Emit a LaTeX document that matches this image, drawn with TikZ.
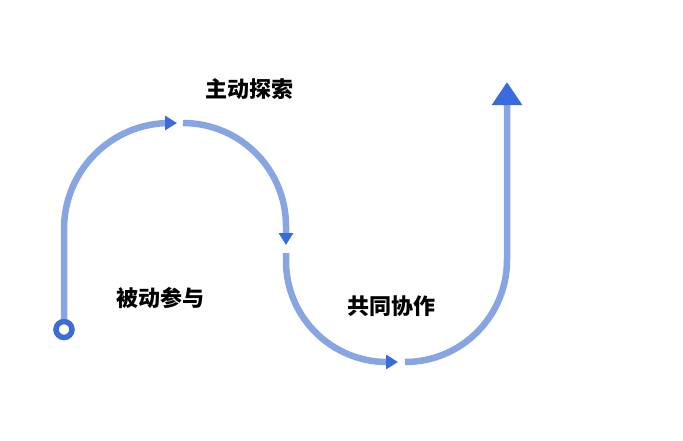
\documentclass[tikz,border=0pt]{standalone}
\usepackage{fontspec}
\newfontfamily\cjk{Noto Sans CJK SC}
\usetikzlibrary{arrows.meta}
\definecolor{lineblue}{HTML}{87A4E3}
\definecolor{tipblue}{HTML}{3A6BDD}
\definecolor{ringblue}{HTML}{3D6CD8}
\tikzset{
  flow/.style={draw=lineblue, line width=6.5pt},
  smalltip/.style={-{Triangle[length=12pt,width=14pt,color=tipblue]}},
  bigtip/.style={-{Triangle[length=23pt,width=29pt,color=tipblue]}},
  label/.style={font=\cjk\bfseries\fontsize{22pt}{26pt}\selectfont, text=black, inner sep=0pt}
}
\begin{document}
\begin{tikzpicture}[x=1pt,y=-1pt]
\useasboundingbox[fill=white] (0,0) rectangle (683,440);
% start ring
\node[circle, draw=ringblue, line width=5.5pt, minimum size=16pt, inner sep=0pt] (start) at (64,329.5) {};
% named end points
\coordinate (t1) at (177,123);
\coordinate (s2) at (183,123);
\coordinate (t2) at (286,245);
\coordinate (s3) at (286,253);
\coordinate (t3) at (398,362);
\coordinate (s4) at (405,362);
\coordinate (t4) at (507,82);
% segments
\draw[flow, smalltip] (start.north) -- (64,229) arc[start angle=180, end angle=270, radius=106] -- (t1);
\draw[flow, smalltip] (s2) arc[start angle=270, end angle=360, radius=103] -- (t2);
\draw[flow, smalltip] (s3) -- (286,261) arc[start angle=180, end angle=90, radius=101] -- (t3);
\draw[flow, bigtip] (s4) arc[start angle=90, end angle=0, radius=102] -- (t4);
% labels
\node[label] (l1) at (249,89) {主动探索};
\node[label] (l2) at (160,298) {被动参与};
\node[label] (l3) at (391,306) {共同协作};
\end{tikzpicture}
\end{document}
